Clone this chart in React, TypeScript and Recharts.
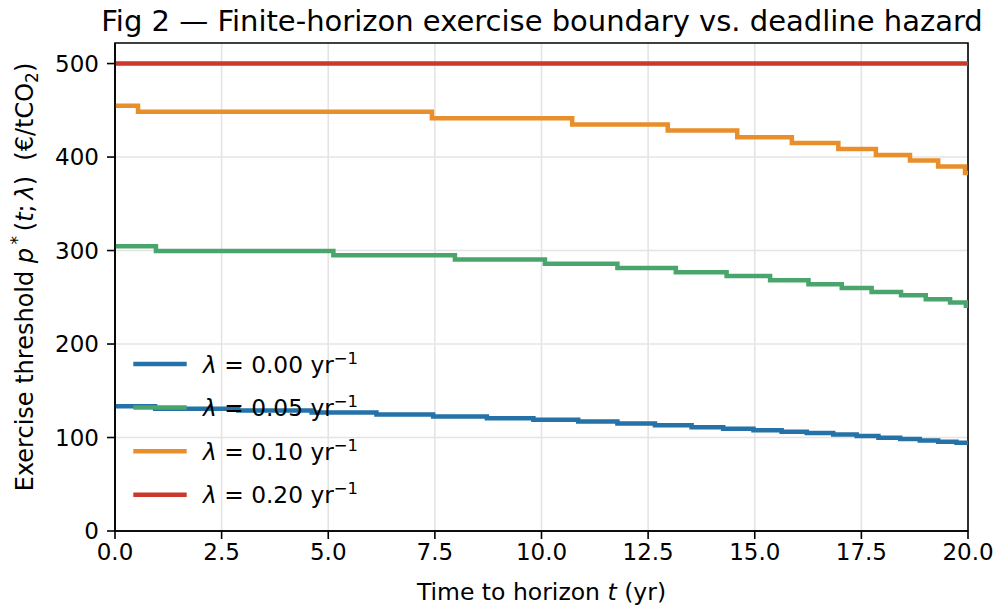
import React from "react";
import {
  LineChart,
  Line,
  XAxis,
  YAxis,
  CartesianGrid,
  Legend,
  ReferenceArea,
  Customized,
} from "recharts";

// step breakpoints (t, yr) and threshold levels (€/tCO2) for each hazard
const tLam000 = [0, 0.94, 2.89, 4.61, 6.13, 7.46, 8.72, 9.81, 10.86, 11.78, 12.66, 13.52, 14.26, 14.97, 15.63, 16.22, 16.84, 17.39, 17.9, 18.41, 18.87, 19.3, 19.73, 20];
const pLam000 = [133.5, 130.7, 128.8, 126.8, 124.5, 122.5, 120.5, 119, 117.2, 115.1, 113.2, 111.1, 109.3, 107.9, 106.1, 104.7, 103.3, 101.5, 99.8, 98.3, 96.9, 95.4, 94.3, 94.3];

const tLam005 = [0, 0.96, 5.12, 7.97, 10.08, 11.78, 13.15, 14.34, 15.36, 16.26, 17.04, 17.74, 18.43, 19.01, 19.58, 19.95, 20];
const pLam005 = [304.5, 299.5, 295, 290.3, 286, 281.3, 276.7, 272.8, 268.2, 263.9, 260, 255.7, 252.1, 247.9, 244.3, 241, 241];

const tLam010 = [0, 0.54, 7.43, 10.72, 12.96, 14.59, 15.87, 16.96, 17.84, 18.64, 19.3, 19.93, 20];
const pLam010 = [455, 448.5, 441.6, 434.8, 428.4, 421.2, 415.1, 408.7, 402.2, 396.4, 390, 383, 383];

const tLam020 = [0, 20];
const pLam020 = [500, 500];

const lambdas = ["0.00", "0.05", "0.10", "0.20"];
const colors = ["#2472a8", "#4aa56d", "#e88e2b", "#c9392c"];

const xTicks = [0, 2.5, 5, 7.5, 10, 12.5, 15, 17.5, 20];
const yTicks = [0, 100, 200, 300, 400, 500];
const yMax = 522;

const zip = (ts: number[], ps: number[]) => ts.map((t, i) => ({ t, p: ps[i] }));
const series = [
  zip(tLam000, pLam000),
  zip(tLam005, pLam005),
  zip(tLam010, pLam010),
  zip(tLam020, pLam020),
];

const FONT = "'DejaVu Sans', sans-serif";

const renderLegend = () => (
  <svg width={280} height={180} style={{ display: "block", overflow: "visible" }}>
    {lambdas.map((lam, i) => {
      const y = 34 + 43.6 * i;
      return (
        <g key={lam}>
          <line x1={23.3} x2={76.7} y1={y} y2={y} stroke={colors[i]} strokeWidth={4.5} />
          <text x={93} y={y + 8.5} fontSize={23.3} fontFamily={FONT} fill="#000">
            <tspan fontStyle="italic">λ</tspan>
            <tspan> = {lam} yr</tspan>
            <tspan dy={-9} fontSize={16.5}>−1</tspan>
          </text>
        </g>
      );
    })}
  </svg>
);

const Labels = () => (
  <g fontFamily={FONT} fill="#000">
    <text x={542} y={31} fontSize={29} textAnchor="middle">
      Fig 2 — Finite-horizon exercise boundary vs. deadline hazard
    </text>
    <text x={541.5} y={600} fontSize={23.5} textAnchor="middle">
      Time to horizon <tspan fontStyle="italic">t</tspan> (yr)
    </text>
    <text x={33} y={277} fontSize={24} textAnchor="middle" transform="rotate(-90, 33, 277)">
      Exercise threshold <tspan fontStyle="italic">p</tspan>
      <tspan dy={-10} fontSize={17}>{"\u2009*"}</tspan>
      <tspan dy={10}>{"\u2009("}</tspan>
      <tspan fontStyle="italic">t</tspan>
      <tspan>{";\u2009"}</tspan>
      <tspan fontStyle="italic">λ</tspan>
      <tspan>{")\u00a0\u00a0(€/tCO"}</tspan>
      <tspan dy={5} fontSize={17}>2</tspan>
      <tspan dy={-5}>)</tspan>
    </text>
  </g>
);

const tickStyle = { fill: "#000", fontSize: 23, fontFamily: FONT };

export default function App() {
  return (
    <div style={{ position: "absolute", left: 0, top: 0, width: 1000, height: 610, background: "#fff" }}>
      <LineChart width={1000} height={610} margin={{ top: 43, right: 32, bottom: 49, left: 55 }}>
        <CartesianGrid stroke="#e4e4e4" strokeWidth={1.6} horizontalValues={yTicks} verticalValues={xTicks} />
        <XAxis
          type="number"
          dataKey="t"
          domain={[0, 20]}
          ticks={xTicks}
          tickFormatter={(v: number) => v.toFixed(1)}
          height={30}
          tickSize={8}
          tickMargin={5}
          stroke="#000"
          strokeWidth={1.6}
          tick={tickStyle}
        />
        <YAxis
          type="number"
          domain={[0, yMax]}
          ticks={yTicks}
          width={60}
          tickSize={8}
          tickMargin={8}
          stroke="#000"
          strokeWidth={1.6}
          tick={tickStyle}
        />
        <ReferenceArea x1={0} x2={20} y1={0} y2={yMax} fill="none" stroke="#000" strokeWidth={1.6} />
        {series.map((d, i) => (
          <Line
            key={lambdas[i]}
            data={d}
            dataKey="p"
            type="stepAfter"
            stroke={colors[i]}
            strokeWidth={4.5}
            dot={false}
            activeDot={false}
            isAnimationActive={false}
          />
        ))}
        <Legend
          layout="vertical"
          align="center"
          verticalAlign="middle"
          content={renderLegend}
          wrapperStyle={{ position: "absolute", left: 110, top: 330, width: 280, height: 180 }}
        />
        <Customized component={Labels} />
      </LineChart>
    </div>
  );
}
